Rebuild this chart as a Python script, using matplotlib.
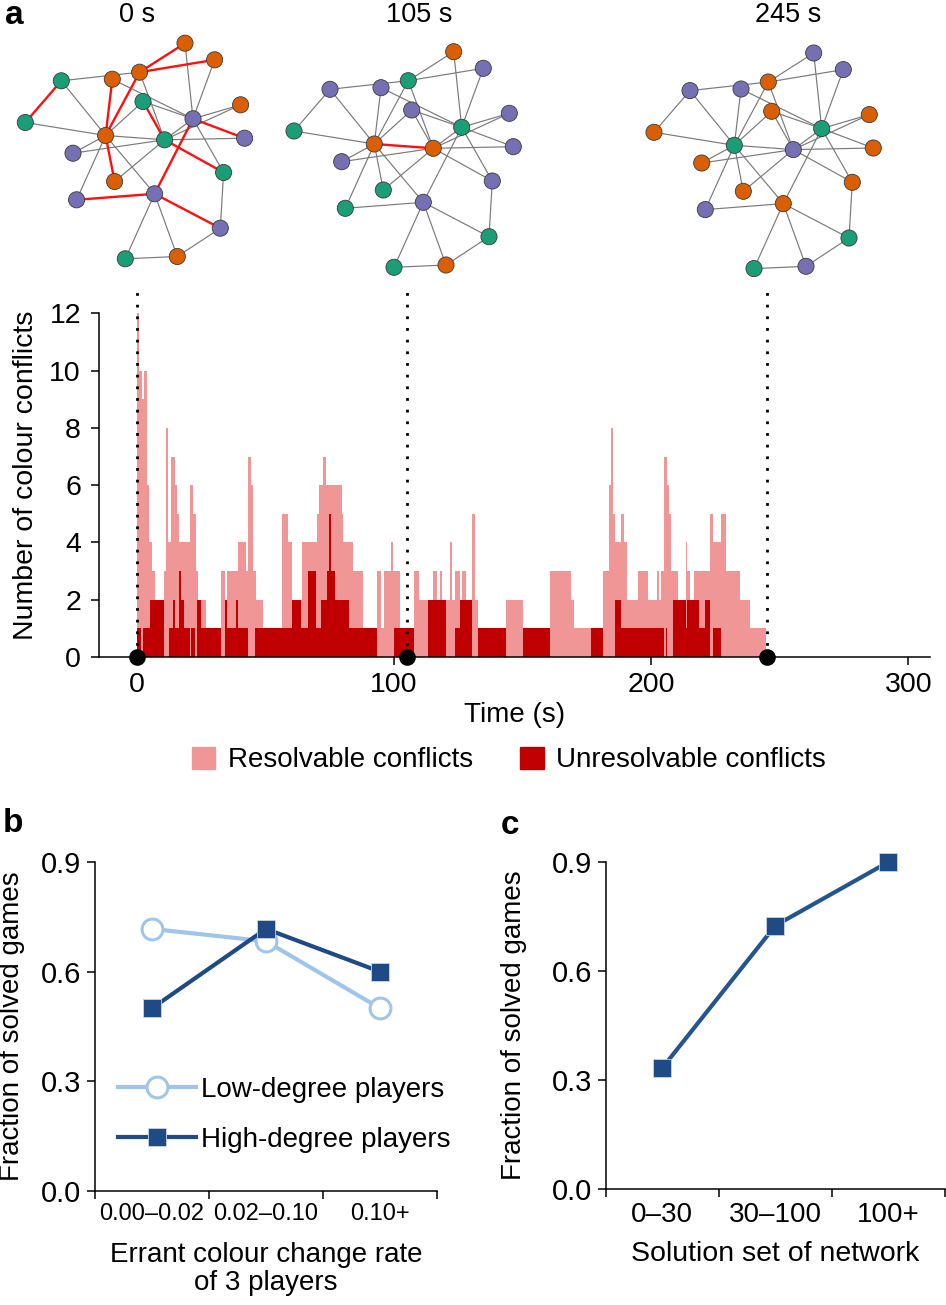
import matplotlib
matplotlib.use('Agg')
import matplotlib.pyplot as plt
import numpy as np
from matplotlib.patches import Patch

plt.rcParams['font.family'] = ['Liberation Sans', 'DejaVu Sans']

# ---------------- DATA ----------------
# network layout (same graph in all three snapshots)
node_x = [183.7, 213.3, 138.3, 111.0, 60.0, 141.7, 239.3, 191.7, 24.0, 104.3,
          163.3, 243.3, 71.7, 222.3, 113.3, 75.3, 153.3, 219.0, 124.0, 176.0]
node_y = [51.7, 68.3, 80.7, 87.7, 89.3, 110.0, 113.3, 127.3, 131.0, 144.0,
          148.3, 146.7, 161.7, 181.0, 190.0, 208.3, 202.3, 236.7, 267.3, 265.0]
edges = [(1, 3), (1, 8), (2, 3), (2, 8), (3, 5), (3, 10), (3, 11), (4, 10), (4, 8),
         (5, 9), (5, 10), (9, 10), (6, 10), (6, 11), (6, 8), (7, 8), (7, 11), (8, 11),
         (8, 12), (8, 14), (8, 17), (10, 11), (10, 13), (10, 15), (10, 16), (10, 17),
         (11, 15), (11, 14), (11, 12), (11, 13), (16, 17), (17, 18), (17, 19), (17, 20),
         (19, 20), (14, 18), (18, 20)]
snapshot_labels = ['0 s', '105 s', '245 s']
snapshot_times = [0, 105, 245]
colours_0 = list('OOOOGGOPGOGPPGOPPPGO')
colours_105 = list('OPGPPPPGGOOPPPGGPGGO')
colours_245 = list('PPOPPOOGOGPOOOOPOGGP')

# conflicts over time (step functions)
total_edges = [0, 1, 2, 3, 4, 5, 6, 7, 10.5, 11.3, 12.2, 13.5, 15, 15.8, 16.4, 20.6, 22, 23, 24, 27,
               32.7, 34.3, 35, 39.5, 42.5, 43.4, 44.4, 45.3, 46.6, 49.2, 56.4, 58.7, 60.3, 64.2, 70,
               71, 72.6, 73.6, 79.7, 80.4, 84.3, 88.2, 93.4, 95, 96, 98.8, 99.6, 102.4, 107.9,
               109.7, 115.2, 116.8, 117.8, 118.6, 121.7, 122.7, 123.9, 125.6, 126.4, 127.9, 130.4,
               131.7, 132.6, 143.5, 150.3, 160.7, 169, 170, 181.2, 183.5, 184.5, 185.3, 185.8,
               188.2, 189.5, 190.8, 195, 198.8, 202.2, 203.2, 204, 205, 206, 206.9, 207.9, 210.3,
               213.6, 214.1, 215.2, 216.5, 223, 224, 227.1, 229.2, 234.4, 238.4, 244.8]
total_values = [12, 10, 9, 10, 6, 4, 3, 2, 3, 8, 4, 7, 6, 5, 4, 6, 5, 3, 2, 1,
                3, 2, 3, 4, 3, 7, 6, 3, 2, 1, 5, 4, 2, 4, 5, 6, 7, 6, 5, 4,
                3, 1, 3, 1, 3, 4, 3, 1, 3, 2, 3, 2, 3, 2, 4, 2, 3, 2, 3, 2,
                5, 2, 1, 2, 1, 3, 2, 1, 3, 6, 8, 5, 4, 5, 4, 2, 3, 2, 3, 2,
                3, 7, 6, 5, 3, 2, 4, 3, 2, 3, 5, 4, 5, 3, 2, 1]
unres_edges = [0, 1.6, 2.6, 5.2, 10.6, 12.7, 14.3, 15.1, 16.4, 17.4, 18.4, 20.6, 21.3, 22.6, 23.4,
               24.9, 32.7, 34.3, 35.1, 38.7, 39.5, 43.4, 46.0, 60.3, 63.9, 66.5, 69.6, 71.7, 73.9,
               74.7, 75.7, 77.3, 82.7, 93.4, 100.1, 107.9, 113.1, 120.1, 123.9, 125.6, 130.4,
               132.6, 143.5, 150.3, 160.7, 176.5, 181.2, 185.8, 188.2, 205, 205.7, 206.3, 208.4,
               213.6, 214.1, 218.8, 221.1, 222.7, 224, 227.1]
unres_values = [1, 0, 1, 2, 0, 1, 2, 1, 3, 2, 1, 0, 1, 0, 2, 1, 0, 2, 1, 2,
                1, 0, 1, 2, 1, 3, 1, 2, 3, 5, 3, 2, 1, 0, 1, 0, 2, 0, 1, 2,
                0, 1, 0, 1, 0, 1, 0, 2, 1, 0, 1, 0, 2, 1, 2, 1, 2, 0, 1]

# panel b
b_categories = ['0.00\u20130.02', '0.02\u20130.10', '0.10+']
b_low = [0.717, 0.683, 0.50]
b_high = [0.50, 0.717, 0.60]
# panel c
c_categories = ['0\u201330', '30\u2013100', '100+']
c_values = [0.333, 0.725, 0.90]

# ---------------- STYLE ----------------
W, H = 946, 1305
def fx(px):
    return px / W
def fy(py):
    return 1 - py / H

node_cmap = {'O': '#d95f02', 'G': '#1b9e77', 'P': '#7570b3'}
pink = '#f09696'
dark_red = '#c00000'
light_blue = '#9fc5ea'
dark_blue = '#1e4a86'

fig = plt.figure(figsize=(9.46, 13.05), dpi=100)

# ---------- networks ----------
axn = fig.add_axes([0, fy(290), 1, 290 / H])
axn.set_xlim(0, W)
axn.set_ylim(290, 0)
axn.axis('off')
offsets = [(1.3, -8.5), (270, 0), (630, 1.3)]
nx = np.array(node_x)
ny = np.array(node_y)
for (dx, dy), cols in zip(offsets, [colours_0, colours_105, colours_245]):
    for a, b in edges:
        i, j = a - 1, b - 1
        conflict = cols[i] == cols[j]
        axn.plot([nx[i] + dx, nx[j] + dx], [ny[i] + dy, ny[j] + dy],
                 color='#ff1010' if conflict else '#7a7a7a',
                 lw=1.7 if conflict else 0.85, zorder=2 if conflict else 1,
                 solid_capstyle='round')
    axn.scatter(nx + dx, ny + dy, s=135, c=[node_cmap[c] for c in cols],
                edgecolors='#3a3a3a', linewidths=0.6, zorder=3)

label_x = [137, 419, 788]
for lx, lab in zip(label_x, snapshot_labels):
    fig.text(fx(lx), fy(15), lab, ha='center', va='center', fontsize=19.5)

fig.text(fx(5), fy(15), 'a', ha='left', va='center', fontsize=24, fontweight='bold')
fig.text(fx(3), fy(823), 'b', ha='left', va='center', fontsize=24, fontweight='bold')
fig.text(fx(501), fy(826), 'c', ha='left', va='center', fontsize=24, fontweight='bold')

# ---------- panel a ----------
axa = fig.add_axes([fx(99), fy(657), fx(930 - 99), (657 - 313.3) / H])
axa.stairs(total_values, total_edges, fill=True, color=pink, lw=0)
axa.stairs(unres_values, unres_edges, fill=True, color=dark_red, lw=0)
axa.set_xlim(-14.6, 308.4)
axa.set_ylim(0, 12)
for t in snapshot_times:
    axa.plot([t, t], [0, 12.8], color='k', ls=(0, (1, 3.2)), lw=2.0, clip_on=False, zorder=4)
axa.scatter(snapshot_times, [0] * len(snapshot_times), s=120, color='k', zorder=6, clip_on=False)
axa.set_xticks([0, 100, 200, 300])
axa.set_yticks(np.arange(0, 13, 2))
for s in ['top', 'right']:
    axa.spines[s].set_visible(False)
for s in ['left', 'bottom']:
    axa.spines[s].set_linewidth(1.1)
axa.tick_params(direction='out', length=6, width=1.1, labelsize=20.5, pad=5)
axa.tick_params(axis='y', pad=7)
axa.set_ylabel('Number of colour conflicts', fontsize=20.5)
axa.yaxis.set_label_coords(-0.072, 0.53)
axa.set_xlabel('Time (s)', fontsize=20)
axa.xaxis.set_label_coords(0.5, -0.13)

fig.legend(handles=[Patch(color=pink), Patch(color=dark_red)],
           labels=['Resolvable conflicts', 'Unresolvable conflicts'],
           loc='center', bbox_to_anchor=(fx(509), fy(760)), ncol=2, frameon=False,
           fontsize=20, handlelength=0.85, handleheight=0.85, handletextpad=0.45,
           columnspacing=1.7)

# ---------- panel b ----------
def style_small(ax):
    for s in ['top', 'right']:
        ax.spines[s].set_visible(False)
    for s in ['left', 'bottom']:
        ax.spines[s].set_linewidth(1.1)
    ax.set_xlim(0, 3)
    ax.set_ylim(0, 0.9)
    ax.set_yticks([0, 0.3, 0.6, 0.9])
    ax.set_yticklabels(['0.0', '0.3', '0.6', '0.9'])
    ax.set_xticks([0, 1, 2, 3])
    ax.set_xticklabels([])
    ax.tick_params(axis='both', which='major', direction='out', length=6, width=1.1,
                   labelsize=21, pad=4)
    ax.tick_params(axis='x', which='minor', length=0, labelsize=17, pad=9)

xb = np.arange(len(b_categories)) + 0.5
axb = fig.add_axes([fx(95), fy(1191), fx(437 - 95), (1191 - 862) / H])
style_small(axb)
axb.set_xticks(xb, minor=True)
axb.set_xticklabels(b_categories, minor=True)
axb.plot(xb, b_low, color=light_blue, lw=3, marker='o', ms=15, mfc='white',
         mec=light_blue, mew=2.2, label='Low-degree players', zorder=3, clip_on=False)
axb.plot(xb, b_high, color=dark_blue, lw=3, marker='s', ms=12.5, mfc=dark_blue,
         mec='#c8d4e4', mew=0.6, label='High-degree players', zorder=4, clip_on=False)
axb.set_ylabel('Fraction of solved games', fontsize=20)
axb.yaxis.set_label_coords(-0.205, 0.5)
axb.set_xlabel('Errant colour change rate\nof 3 players', fontsize=20, linespacing=1.1)
axb.xaxis.set_label_coords(0.5, -0.155)
axb.legend(loc='center left', bbox_to_anchor=(0.067, 0.231), frameon=False, fontsize=20,
           handlelength=2.8, handletextpad=0.2, labelspacing=0.85, borderpad=0,
           borderaxespad=0)

# ---------- panel c ----------
xc = np.arange(len(c_categories)) + 0.5
axc = fig.add_axes([fx(605.7), fy(1189), fx(945 - 605.7), (1189 - 862) / H])
style_small(axc)
axc.set_xticks(xc, minor=True)
axc.set_xticklabels(c_categories, minor=True)
axc.tick_params(axis='x', which='minor', labelsize=20)
axc.plot(xc, c_values, color='#24558f', lw=3, marker='s', ms=12.5, mfc=dark_blue,
         mec='#c8d4e4', mew=0.6, zorder=3, clip_on=False)
axc.set_ylabel('Fraction of solved games', fontsize=20)
axc.yaxis.set_label_coords(-0.232, 0.5)
axc.set_xlabel('Solution set of network', fontsize=20.5)
axc.xaxis.set_label_coords(0.5, -0.16)

fig.savefig('out.png', dpi=100)
